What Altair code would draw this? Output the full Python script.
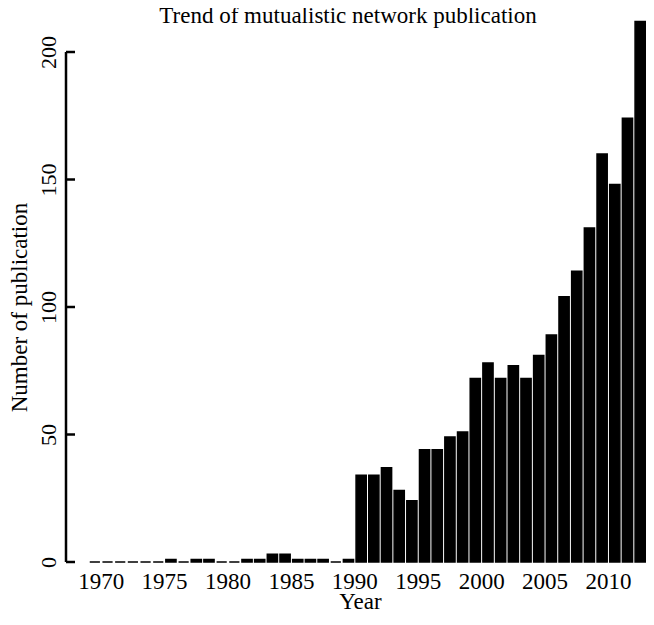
import altair as alt
import pandas as pd

# ---- data ----
years = list(range(1970, 2014))
counts = [0, 0, 0, 0, 0, 0, 1, 0, 1, 1,
          0, 0, 1, 1, 3, 3, 1, 1, 1, 0,
          1, 34, 34, 37, 28, 24, 44, 44, 49, 51,
          72, 78, 72, 77, 72, 81, 89, 104, 114, 131,
          160, 148, 174, 212]
year_ticks = [1970, 1975, 1980, 1985, 1990, 1995, 2000, 2005, 2010]
count_ticks = [0, 50, 100, 150, 200]
title_text = "Trend of mutualistic network publication"
x_title = "Year"
y_title = "Number of publication"

FONT = "Liberation Serif"
INK = "#000000"

df = pd.DataFrame({"year": years, "count": counts})
df["start"] = df["year"] - 1
df["end"] = df["year"]
tick_df = pd.DataFrame({"count": count_ticks})
axis_df = pd.DataFrame({"count": [min(count_ticks)], "top": [max(count_ticks)]})

xscale = alt.Scale(domain=[1967.265, 2013.0], nice=False, zero=False)
yscale = alt.Scale(domain=[0, 200], nice=False, zero=True)

yaxis = alt.Axis(values=count_ticks, format="d", domain=False, ticks=False,
                 tickSize=0, grid=False, labelFont=FONT, labelFontSize=22,
                 labelColor=INK, labelAngle=-90, labelAlign="center",
                 labelBaseline="middle", labelPadding=18, labelFlush=False,
                 labelOverlap=False,
                 title=y_title, titleFont=FONT, titleFontSize=23,
                 titleFontWeight="normal", titleColor=INK,
                 titleAngle=-90, titleAlign="center", titleBaseline="middle",
                 titleX=-47, titleY=255)

bars = alt.Chart(df).mark_bar(
    fill=INK, stroke=INK, strokeWidth=1.5, binSpacing=2.5, clip=False
).encode(
    x=alt.X("start:Q", bin="binned", scale=xscale,
            axis=alt.Axis(values=year_ticks, format="d", domain=False, ticks=False,
                          tickSize=0, grid=False, labelFont=FONT, labelFontSize=23,
                          labelColor=INK, labelBaseline="alphabetic",
                          labelPadding=26, labelFlush=False, labelOverlap=False,
                          title=x_title, titleFont=FONT, titleFontSize=23,
                          titleFontWeight="normal", titleColor=INK,
                          titleBaseline="alphabetic", titleAlign="center",
                          titleX=294, titleY=46)),
    x2="end:Q",
    y=alt.Y("count:Q", scale=yscale, axis=yaxis),
)

# y axis line from 0 to 200 and inward-pointing tick marks, as in the reference
axis_line = alt.Chart(axis_df).mark_rule(color=INK, strokeWidth=2.5).encode(
    y=alt.Y("count:Q", scale=yscale),
    y2="top:Q",
    x=alt.value(0),
)

ticks = alt.Chart(tick_df).mark_rule(color=INK, strokeWidth=2.5).encode(
    y=alt.Y("count:Q", scale=yscale),
    x=alt.value(0),
    x2=alt.value(9),
)

chart = alt.layer(bars, axis_line, ticks).properties(
    width=580,
    height=510,
    title=alt.Title(title_text, font=FONT, fontSize=23, fontWeight="normal",
                    color=INK, anchor="middle", dx=-8, dy=16, offset=9),
    padding={"left": 58, "top": 44, "right": 0, "bottom": 50},
    autosize=alt.AutoSizeParams(type="none"),
).configure_view(strokeWidth=0)

chart.save("out.html", embed_options={"renderer": "svg", "actions": False})
